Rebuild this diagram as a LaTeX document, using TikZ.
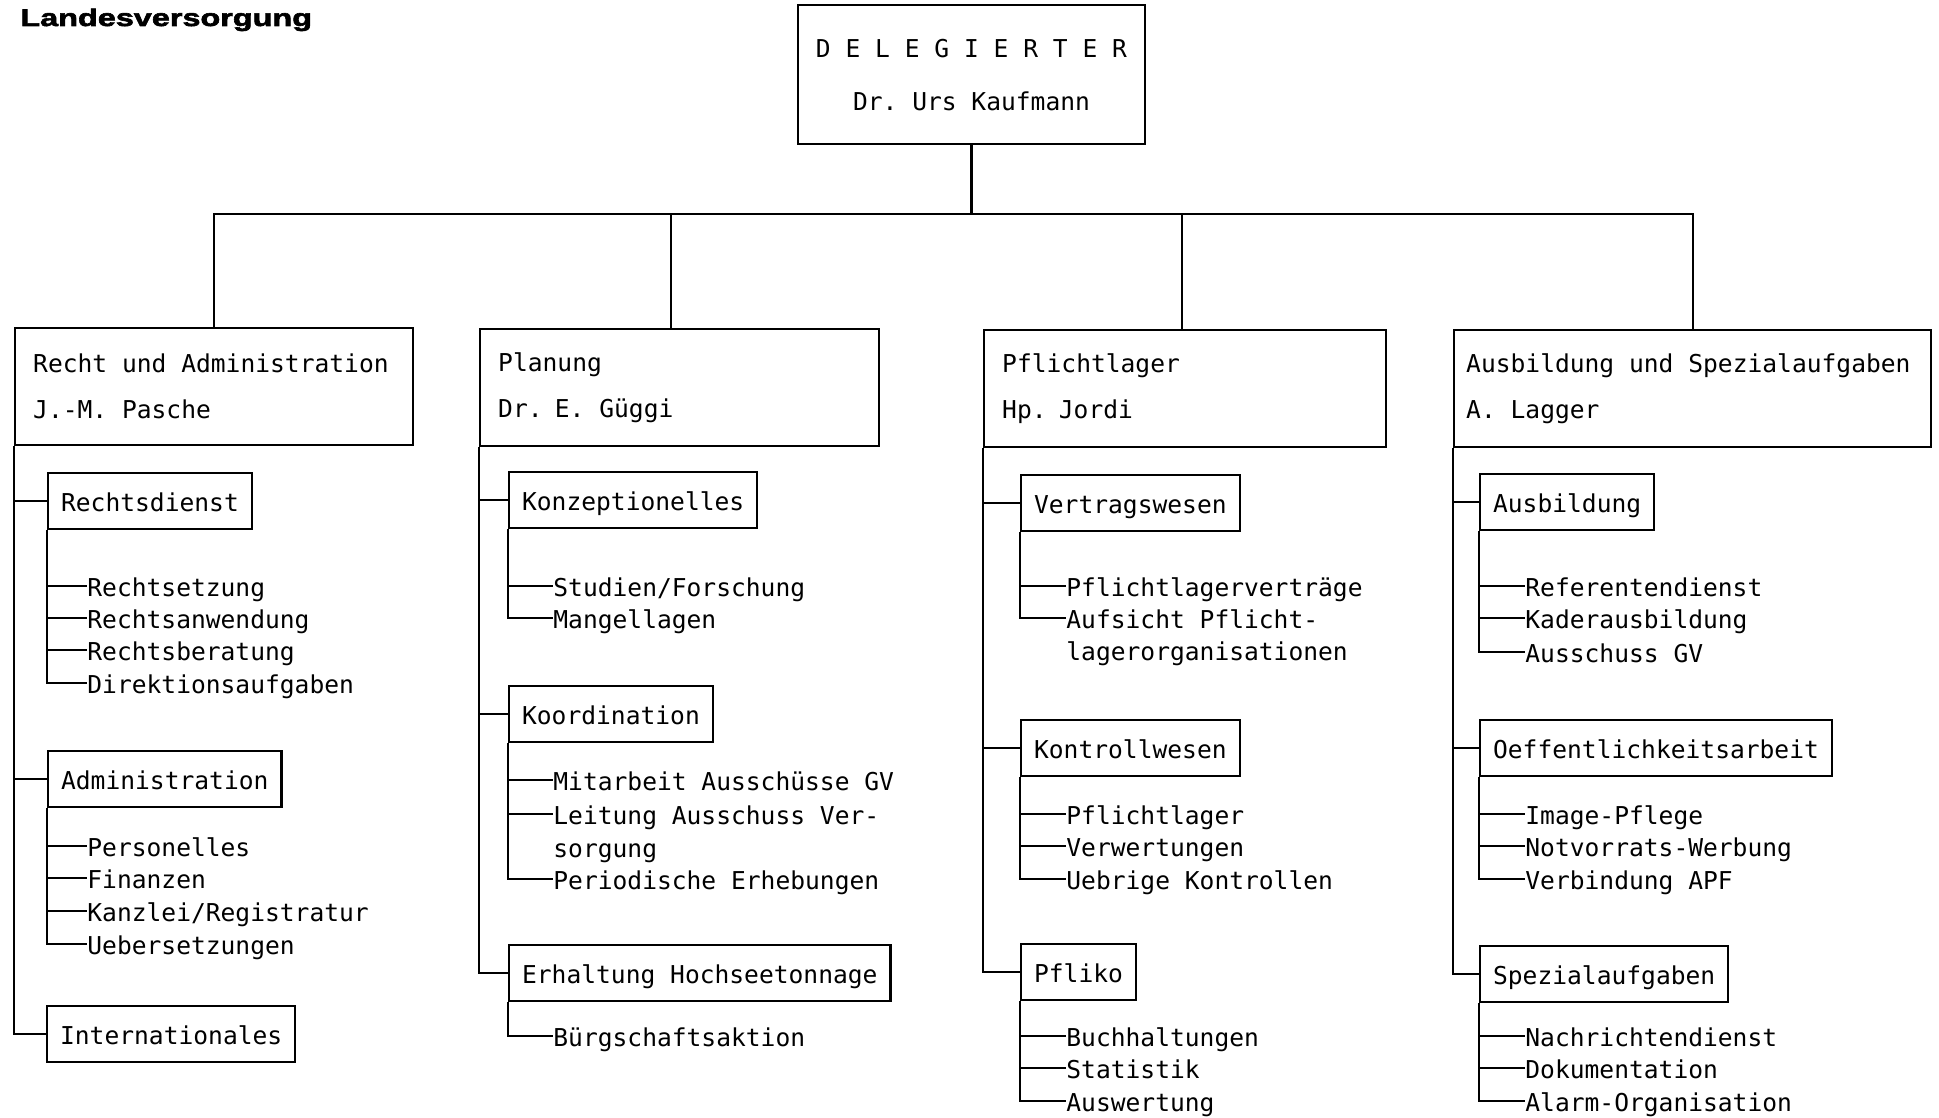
\documentclass[tikz,border=0pt]{standalone}
\usepackage{fontspec}
\setmonofont{DejaVu Sans Mono}
\newfontfamily\titlefont[FakeStretch=1.35,FakeBold=2.5]{Liberation Sans}
\tikzset{
  unit/.style={draw, line width=1.2pt, align=left, anchor=north west, inner xsep=9pt, minimum height=58.5pt,
    execute at begin node={\spaceskip=0pt\relax}},
  sect/.style={draw, line width=1.1pt, anchor=west, inner xsep=6.5pt, text height=10pt, text depth=0pt, minimum height=28pt},
  task/.style={anchor=west, inner sep=0pt, text height=10pt, text depth=0pt},
  link/.style={line width=1.1pt}
}

\begin{document}
\begin{tikzpicture}[x=0.5pt,y=-0.5pt,font=\ttfamily\fontsize{12.3pt}{23pt}\selectfont]
\useasboundingbox (0,0) rectangle (1939,1118);
\node[anchor=base west, inner sep=0pt, font=\titlefont\bfseries\fontsize{12pt}{14pt}\selectfont] (title) at (20,26) {Landesversorgung};

% Delegierter and the four units
\node[draw, line width=1.2pt, align=center, minimum width=173.5pt, minimum height=69.5pt, text depth=0pt,
  font=\ttfamily\fontsize{12.3pt}{26.5pt}\selectfont] (del) at (971.5,74.5) {D E L E G I E R T E R\\Dr. Urs Kaufmann};
\coordinate (bus) at (971,214);
\node[unit, text width=181pt] (recht) at (14,327) {Recht und Administration\\J.-M. Pasche};
\node[unit, text width=181.5pt] (plan) at (479,328) {Planung\\Dr. E. Güggi};
\node[unit, text width=183pt] (pfli) at (983,329) {Pflichtlager\\Hp. Jordi};
\node[unit, inner xsep=6pt, text width=226.5pt] (ausspez) at (1453,329) {Ausbildung und Spezialaufgaben\\A. Lagger};
\draw[link] (del.south) -- (del.south |- bus);
\draw[link] (recht.north) |- (bus) -| (ausspez.north);
\draw[link] ([xshift=-4.5pt]plan.north) -- ([xshift=-4.5pt]plan.north |- bus);
\draw[link] ([xshift=-1.5pt]pfli.north) -- ([xshift=-1.5pt]pfli.north |- bus);

% Recht und Administration
\node[sect] (rd) at (47,501) {Rechtsdienst};
\node[task] (rd1) at (87,586) {Rechtsetzung};
\node[task] (rd2) at (87,618) {Rechtsanwendung};
\node[task] (rd3) at (87,650) {Rechtsberatung};
\node[task] (rd4) at (87,683) {Direktionsaufgaben};
\node[sect] (adm) at (47,779) {Administration};
\node[task] (adm1) at (87,846) {Personelles};
\node[task] (adm2) at (87,878) {Finanzen};
\node[task] (adm3) at (87,911) {Kanzlei/Registratur};
\node[task] (adm4) at (87,944) {Uebersetzungen};
\node[sect] (intl) at (46,1034) {Internationales};
\draw[link] (recht.south west) |- (rd.west) (recht.south west) |- (adm.west) (recht.south west) |- (intl.west);
\draw[link] (rd.south west) |- (rd1.west) (rd.south west) |- (rd2.west) (rd.south west) |- (rd3.west) (rd.south west) |- (rd4.west);
\draw[link] (adm.south west) |- (adm1.west) (adm.south west) |- (adm2.west) (adm.south west) |- (adm3.west) (adm.south west) |- (adm4.west);

% Planung
\node[sect] (konz) at (508,500) {Konzeptionelles};
\node[task] (konz1) at (553,586) {Studien/Forschung};
\node[task] (konz2) at (553,618) {Mangellagen};
\node[sect] (koord) at (508,714) {Koordination};
\node[task] (koord1) at (553,780) {Mitarbeit Ausschüsse GV};
\node[task] (koord2) at (553,814) {Leitung Ausschuss Ver-};
\node[task] (koord2b) at (553,847) {sorgung};
\node[task] (koord3) at (553,879) {Periodische Erhebungen};
\node[sect] (hoch) at (508,973) {Erhaltung Hochseetonnage};
\node[task] (hoch1) at (553,1036) {Bürgschaftsaktion};
\draw[link] (plan.south west) |- (konz.west) (plan.south west) |- (koord.west) (plan.south west) |- (hoch.west);
\draw[link] (konz.south west) |- (konz1.west) (konz.south west) |- (konz2.west);
\draw[link] (koord.south west) |- (koord1.west) (koord.south west) |- (koord2.west) (koord.south west) |- (koord3.west);
\draw[link] (hoch.south west) |- (hoch1.west);

% Pflichtlager
\node[sect] (vert) at (1020,503) {Vertragswesen};
\node[task] (vert1) at (1066,586) {Pflichtlagerverträge};
\node[task] (vert2) at (1066,618) {Aufsicht Pflicht-};
\node[task] (vert2b) at (1066,650) {lagerorganisationen};
\node[sect] (kontr) at (1020,748) {Kontrollwesen};
\node[task] (kontr1) at (1066,814) {Pflichtlager};
\node[task] (kontr2) at (1066,846) {Verwertungen};
\node[task] (kontr3) at (1066,879) {Uebrige Kontrollen};
\node[sect] (pfliko) at (1020,972) {Pfliko};
\node[task] (pfliko1) at (1066,1036) {Buchhaltungen};
\node[task] (pfliko2) at (1066,1068) {Statistik};
\node[task] (pfliko3) at (1066,1101) {Auswertung};
\draw[link] (pfli.south west) |- (vert.west) (pfli.south west) |- (kontr.west) (pfli.south west) |- (pfliko.west);
\draw[link] (vert.south west) |- (vert1.west) (vert.south west) |- (vert2.west);
\draw[link] (kontr.south west) |- (kontr1.west) (kontr.south west) |- (kontr2.west) (kontr.south west) |- (kontr3.west);
\draw[link] (pfliko.south west) |- (pfliko1.west) (pfliko.south west) |- (pfliko2.west) (pfliko.south west) |- (pfliko3.west);

% Ausbildung und Spezialaufgaben
\node[sect] (ausb) at (1479,502) {Ausbildung};
\node[task] (ausb1) at (1525,586) {Referentendienst};
\node[task] (ausb2) at (1525,618) {Kaderausbildung};
\node[task] (ausb3) at (1525,652) {Ausschuss GV};
\node[sect] (oeff) at (1479,748) {Oeffentlichkeitsarbeit};
\node[task] (oeff1) at (1525,814) {Image-Pflege};
\node[task] (oeff2) at (1525,846) {Notvorrats-Werbung};
\node[task] (oeff3) at (1525,879) {Verbindung APF};
\node[sect] (spez) at (1479,974) {Spezialaufgaben};
\node[task] (spez1) at (1525,1036) {Nachrichtendienst};
\node[task] (spez2) at (1525,1068) {Dokumentation};
\node[task] (spez3) at (1525,1101) {Alarm-Organisation};
\draw[link] (ausspez.south west) |- (ausb.west) (ausspez.south west) |- (oeff.west) (ausspez.south west) |- (spez.west);
\draw[link] (ausb.south west) |- (ausb1.west) (ausb.south west) |- (ausb2.west) (ausb.south west) |- (ausb3.west);
\draw[link] (oeff.south west) |- (oeff1.west) (oeff.south west) |- (oeff2.west) (oeff.south west) |- (oeff3.west);
\draw[link] (spez.south west) |- (spez1.west) (spez.south west) |- (spez2.west) (spez.south west) |- (spez3.west);
\end{tikzpicture}
\end{document}
